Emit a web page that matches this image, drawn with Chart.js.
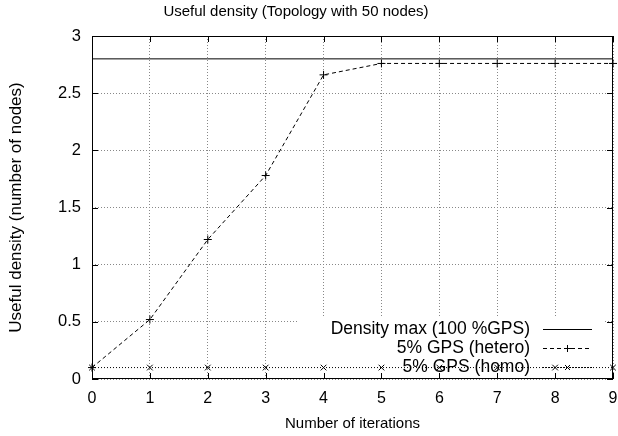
<!DOCTYPE html>
<html>
<head>
<meta charset="utf-8">
<script src="https://cdn.jsdelivr.net/npm/chart.js@4.4.1/dist/chart.umd.min.js"></script>
<style>
  html, body { margin: 0; padding: 0; background: #fff; }
  #wrap { width: 618px; height: 436px; }
</style>
</head>
<body>
<div id="wrap"><canvas id="myChart" width="618" height="436"></canvas></div>
<script>
const iterations = [0, 1, 2, 3, 4, 5, 6, 7, 8, 9];
const densityMax = [2.8, 2.8, 2.8, 2.8, 2.8, 2.8, 2.8, 2.8, 2.8, 2.8];
const gpsHetero = [0.1, 0.52, 1.22, 1.78, 2.66, 2.76, 2.76, 2.76, 2.76, 2.76];
const gpsHomo = [0.1, 0.1, 0.1, 0.1, 0.1, 0.1, 0.1, 0.1, 0.1, 0.1];
const seriesNames = ['Density max (100 %GPS)', '5% GPS (hetero)', '5% GPS (homo)'];
const chartTitle = 'Useful density (Topology with 50 nodes)';

const FONT = '"Liberation Sans", Arial, sans-serif';
const FS = 15;

function toPoints(ys) {
    return iterations.map((x, i) => ({ x: x, y: ys[i] }));
}

// gnuplot-like frame, inward ticks, title and key
const gnuplotLook = {
    id: 'gnuplotLook',
    beforeDatasetsDraw(chart) {
        const ctx = chart.ctx;
        // key background hides the grid behind it
        ctx.save();
        ctx.fillStyle = '#fff';
        ctx.fillRect(297, 317, 306, chart.chartArea.bottom - 317);
        ctx.restore();
    },
    afterDraw(chart) {
        const ctx = chart.ctx;
        const a = chart.chartArea;
        const xs = chart.scales.x, ys = chart.scales.y;
        ctx.save();
        ctx.strokeStyle = '#000';
        ctx.lineWidth = 1;
        ctx.strokeRect(a.left + 0.5, a.top + 0.5, a.right - a.left - 1, a.bottom - a.top - 1);
        ctx.beginPath();
        xs.ticks.forEach(t => {
            const px = Math.round(xs.getPixelForValue(t.value)) + 0.5;
            ctx.moveTo(px, a.bottom); ctx.lineTo(px, a.bottom - 6);
            ctx.moveTo(px, a.top); ctx.lineTo(px, a.top + 6);
        });
        ys.ticks.forEach(t => {
            const py = Math.round(ys.getPixelForValue(t.value)) + 0.5;
            ctx.moveTo(a.left, py); ctx.lineTo(a.left + 6, py);
            ctx.moveTo(a.right, py); ctx.lineTo(a.right - 6, py);
        });
        ctx.stroke();

        // title
        ctx.fillStyle = '#000';
        ctx.font = FS + 'px ' + FONT;
        ctx.textAlign = 'center';
        ctx.textBaseline = 'middle';
        ctx.fillText(chartTitle, 296, 12);

        // key
        const rows = [329, 348, 367];
        ctx.font = '17.5px ' + FONT;
        ctx.textAlign = 'right';
        chart.data.datasets.forEach((ds, i) => {
            const y = rows[i];
            ctx.fillStyle = '#000';
            ctx.fillText(seriesNames[i], 530, y);
            ctx.strokeStyle = ds.borderColor;
            ctx.lineWidth = 1;
            ctx.setLineDash(ds.borderDash || []);
            ctx.beginPath();
            ctx.moveTo(543, y + 0.5); ctx.lineTo(592, y + 0.5);
            ctx.stroke();
            ctx.setLineDash([]);
            if (ds.pointStyle === 'cross') {
                ctx.beginPath();
                ctx.moveTo(564, y + 0.5); ctx.lineTo(571, y + 0.5);
                ctx.moveTo(567.5, y - 3); ctx.lineTo(567.5, y + 4);
                ctx.stroke();
            } else if (ds.pointStyle === 'crossRot') {
                ctx.beginPath();
                ctx.moveTo(565, y - 2); ctx.lineTo(570, y + 3);
                ctx.moveTo(570, y - 2); ctx.lineTo(565, y + 3);
                ctx.stroke();
            }
        });
        ctx.restore();
    }
};

const ctx = document.getElementById('myChart').getContext('2d');
const myChart = new Chart(ctx, {
    type: 'line',
    data: {
        datasets: [{
            label: seriesNames[0],
            data: toPoints(densityMax),
            borderColor: '#000',
            borderWidth: 1,
            pointRadius: 0,
            clip: false
        }, {
            label: seriesNames[1],
            data: toPoints(gpsHetero),
            borderColor: '#000',
            borderWidth: 1,
            borderDash: [4, 3],
            pointStyle: 'cross',
            pointRadius: 4,
            pointBorderColor: '#000',
            pointBorderWidth: 1,
            clip: false
        }, {
            label: seriesNames[2],
            data: toPoints(gpsHomo),
            borderColor: '#000',
            borderWidth: 1,
            borderDash: [1, 2],
            pointStyle: 'crossRot',
            pointRadius: 4,
            pointBorderColor: '#000',
            pointBorderWidth: 1,
            clip: false
        }]
    },
    options: {
        responsive: false,
        animation: false,
        layout: { padding: { top: 36, right: 5, left: 0, bottom: 0 } },
        plugins: {
            legend: { display: false },
            title: { display: false },
            tooltip: { enabled: false }
        },
        scales: {
            x: {
                type: 'linear',
                min: 0,
                max: 9,
                ticks: { stepSize: 1, color: '#000', font: { family: FONT, size: 16 }, padding: 10, maxRotation: 0 },
                grid: { color: '#888', drawTicks: false },
                border: { display: false, dash: [1, 2] },
                title: { display: true, text: 'Number of iterations', color: '#000', font: { family: FONT, size: FS }, padding: { top: 6, bottom: 3 } },
                afterFit(scale) {
                    scale.height = 57;
                    scale.paddingLeft = 0;
                    scale.paddingRight = 0;
                }
            },
            y: {
                min: 0,
                max: 3,
                ticks: { stepSize: 0.5, color: '#000', font: { family: FONT, size: 16.5 }, padding: 11, callback: v => String(v) },
                grid: { color: '#888', drawTicks: false },
                border: { display: false, dash: [1, 2] },
                title: { display: true, text: 'Useful density (number of nodes)', color: '#000', font: { family: FONT, size: 17 }, padding: { top: 6, bottom: 0 } },
                afterFit(scale) {
                    scale.width = 92;
                    scale.paddingTop = 0;
                    scale.paddingBottom = 0;
                }
            }
        }
    },
    plugins: [gnuplotLook]
});
</script>
</body>
</html>
